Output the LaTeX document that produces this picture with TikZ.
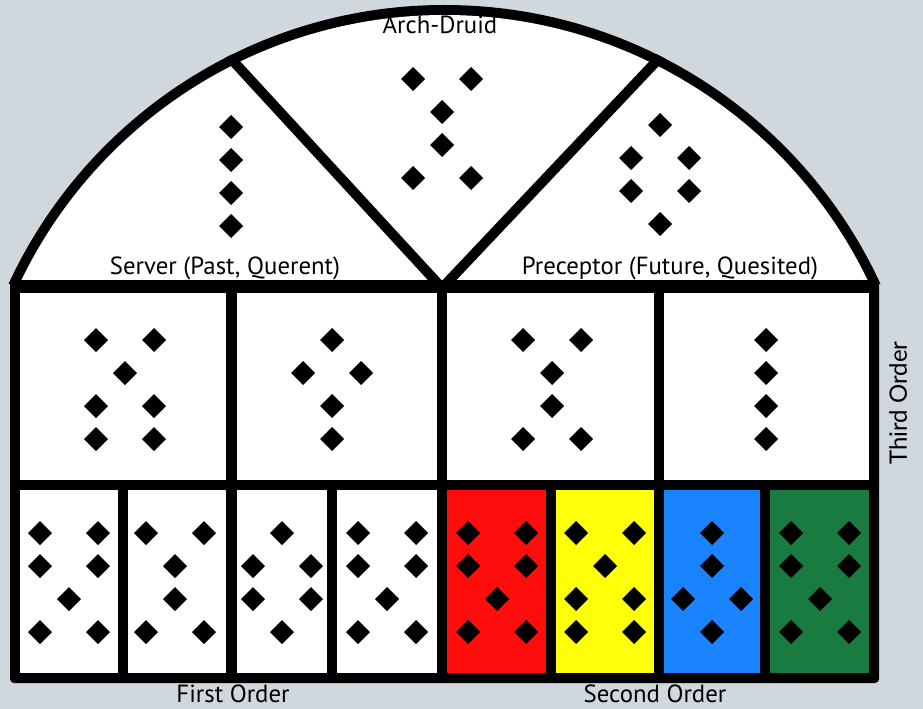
\documentclass[tikz,border=0pt]{standalone}
\usepackage{fontspec}
\setmainfont{PT Sans}
\newfontfamily\orderfont{Lato}
\usepackage{tikz}
\usepackage{xcolor}
\usetikzlibrary{positioning}
\definecolor{slate}{HTML}{D0D7DD}
\definecolor{cellR}{HTML}{FF0D0D}
\definecolor{cellY}{HTML}{FFFF0A}
\definecolor{cellB}{HTML}{1A84FF}
\definecolor{cellG}{HTML}{1A7B40}

\tikzset{gem/.pic={\fill (0,-12)--(12,0)--(0,12)--(-12,0)--cycle;}}
% one geomantic figure, top centre #1, rows #2 (1 = one dot, 2 = two dots)
\newcommand{\geofig}[2]{%
  \begin{scope}[shift={#1}]
    \foreach \n [count=\r from 0] in {#2}{
      \ifnum\n=1
        \pic at (0,33*\r) {gem};
      \else
        \pic at (-29,33*\r) {gem};
        \pic at (29,33*\r) {gem};
      \fi}
  \end{scope}}

\begin{document}
\begin{tikzpicture}[x=0.75pt,y=-0.75pt,
    heading/.style={font=\fontsize{18.6}{22}\selectfont,inner sep=0pt,anchor=base},
    divider/.style={line width=7.5pt}]
    \fill[slate] (0,0) rectangle (923,709);
    \useasboundingbox (0,0) rectangle (923,709);
    % arch and frame
    \begin{scope}
        \clip (0,0) rectangle (923,283);
        \fill (444.5,485) circle (480);
        \fill[white] (444.5,485) circle (470);
    \end{scope}
    \fill[rounded corners=3pt] (10,280) rectangle (879,683);
    \begin{scope}
        \clip (444.5,485) circle (480);
        \draw[divider] (442,288)--(222,49);
        \draw[divider] (442,288)--(668,49);
    \end{scope}
    % third order
    \fill[white] (20,293) rectangle (226,480);
    \fill[white] (237,293) rectangle (437,480);
    \fill[white] (447,293) rectangle (654,480);
    \fill[white] (664,293) rectangle (869,480);
    % first and second order
    \fill[white] (20,490) rectangle (118,673);
    \fill[white] (128,490) rectangle (226,673);
    \fill[white] (237,490) rectangle (327,673);
    \fill[white] (337,490) rectangle (437,673);
    \fill[cellR] (447,490) rectangle (546,673);
    \fill[cellY] (556,490) rectangle (654,673);
    \fill[cellB] (664,490) rectangle (760,673);
    \fill[cellG] (770,490) rectangle (869,673);
    % figures
    \geofig{(231,127)}{1,1,1,1}
    \geofig{(442,79)}{2,1,1,2}
    \geofig{(660,125)}{1,2,2,1}
    \geofig{(125,340)}{2,1,2,2}
    \geofig{(332,340)}{1,2,1,1}
    \geofig{(552,340)}{2,1,1,2}
    \geofig{(766,340)}{1,1,1,1}
    \geofig{(69,533)}{2,2,1,2}
    \geofig{(175,533)}{2,1,1,2}
    \geofig{(282,533)}{1,2,2,1}
    \geofig{(387,533)}{2,2,1,2}
    \geofig{(497,533)}{2,2,1,2}
    \geofig{(605,533)}{2,1,2,2}
    \geofig{(712,533)}{1,1,2,1}
    \geofig{(820,533)}{2,2,1,2}
    % labels
    \node[heading] (archdruid) at (440,34) {Arch-Druid};
    \node[heading] (server) at (225,274) {Server (Past, Querent)};
    \node[heading] (preceptor) at (670,274) {Preceptor (Future, Quesited)};
    \node[heading] (first) at (233,702) {First Order};
    \node[heading] (second) at (655,702) {Second Order};
    \node[heading,anchor=center,rotate=90,font=\orderfont\fontsize{18}{21}\selectfont]
        (third) at (898,403) {Third Order};
\end{tikzpicture}
\end{document}
